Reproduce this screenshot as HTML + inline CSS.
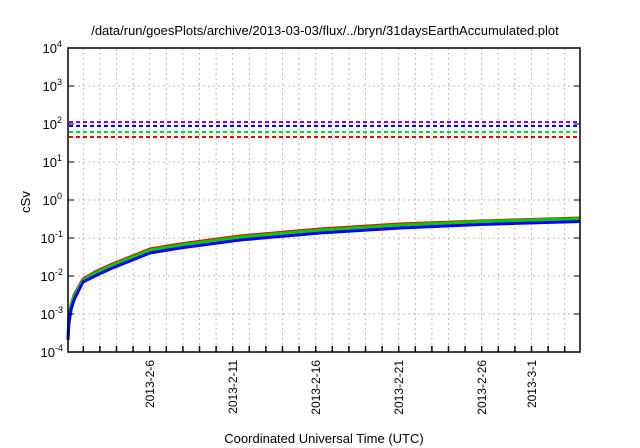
<!DOCTYPE html>
<html><head><style>body{margin:0;background:#fff}svg{display:block}text{font-family:"Liberation Sans",sans-serif;fill:#000}</style></head><body>
<svg width="640" height="448" viewBox="0 0 640 448">
<rect width="640" height="448" fill="#fff"/>
<g stroke="#bbb" stroke-width="1" stroke-dasharray="2,3">
<line x1="68" y1="86" x2="580" y2="86"/><line x1="68" y1="124" x2="580" y2="124"/><line x1="68" y1="162" x2="580" y2="162"/><line x1="68" y1="200" x2="580" y2="200"/><line x1="68" y1="238" x2="580" y2="238"/><line x1="68" y1="276" x2="580" y2="276"/><line x1="68" y1="314" x2="580" y2="314"/>
<line x1="83.3" y1="48" x2="83.3" y2="352"/><line x1="99.9" y1="48" x2="99.9" y2="352"/><line x1="116.5" y1="48" x2="116.5" y2="352"/><line x1="133.1" y1="48" x2="133.1" y2="352"/><line x1="149.7" y1="48" x2="149.7" y2="352"/><line x1="166.3" y1="48" x2="166.3" y2="352"/><line x1="182.9" y1="48" x2="182.9" y2="352"/><line x1="199.5" y1="48" x2="199.5" y2="352"/><line x1="216.1" y1="48" x2="216.1" y2="352"/><line x1="232.7" y1="48" x2="232.7" y2="352"/><line x1="249.3" y1="48" x2="249.3" y2="352"/><line x1="265.9" y1="48" x2="265.9" y2="352"/><line x1="282.5" y1="48" x2="282.5" y2="352"/><line x1="299.1" y1="48" x2="299.1" y2="352"/><line x1="315.7" y1="48" x2="315.7" y2="352"/><line x1="332.3" y1="48" x2="332.3" y2="352"/><line x1="348.9" y1="48" x2="348.9" y2="352"/><line x1="365.5" y1="48" x2="365.5" y2="352"/><line x1="382.1" y1="48" x2="382.1" y2="352"/><line x1="398.7" y1="48" x2="398.7" y2="352"/><line x1="415.3" y1="48" x2="415.3" y2="352"/><line x1="431.9" y1="48" x2="431.9" y2="352"/><line x1="448.5" y1="48" x2="448.5" y2="352"/><line x1="465.1" y1="48" x2="465.1" y2="352"/><line x1="481.7" y1="48" x2="481.7" y2="352"/><line x1="498.3" y1="48" x2="498.3" y2="352"/><line x1="514.9" y1="48" x2="514.9" y2="352"/><line x1="531.5" y1="48" x2="531.5" y2="352"/><line x1="548.1" y1="48" x2="548.1" y2="352"/><line x1="564.7" y1="48" x2="564.7" y2="352"/>
</g>
<g stroke-width="2" stroke-dasharray="4,3">
<line x1="69" y1="122" x2="579" y2="122" stroke="#9400d3"/>
<line x1="69" y1="126" x2="579" y2="126" stroke="#0000ff"/>
<line x1="69" y1="132" x2="579" y2="132" stroke="#00dd00"/>
<line x1="69" y1="137" x2="579" y2="137" stroke="#ee0000"/>
</g>
<g fill="none" stroke-width="3" stroke-linejoin="round">
<polyline stroke="#ee0000" points="68,335 69,318 71,305 74,295 78,288 83,279 95,272 110,265 130,257 150,249 180,244 240,236 320,229 400,224 480,221 580,218"/>
<polyline stroke="#00cc00" points="68,336 69,319 71,306 74,296 78,289 83,280 95,273 110,266 130,258 150,250 180,245 240,237 320,230 400,225 480,221.5 580,218.5"/>
<polyline stroke="#0000ff" points="68,340 69,323 71,310 74,300 78,292 83,282 95,276 110,269 130,261 150,253 180,248 240,240 320,233 400,228 480,224.5 580,221.5"/>
</g>
<g stroke="#000" stroke-width="1">
<g stroke-width="1.5">
<line x1="83.3" y1="352" x2="83.3" y2="346"/><line x1="99.9" y1="352" x2="99.9" y2="346"/><line x1="116.5" y1="352" x2="116.5" y2="346"/><line x1="133.1" y1="352" x2="133.1" y2="346"/><line x1="149.7" y1="352" x2="149.7" y2="346"/><line x1="166.3" y1="352" x2="166.3" y2="346"/><line x1="182.9" y1="352" x2="182.9" y2="346"/><line x1="199.5" y1="352" x2="199.5" y2="346"/><line x1="216.1" y1="352" x2="216.1" y2="346"/><line x1="232.7" y1="352" x2="232.7" y2="346"/><line x1="249.3" y1="352" x2="249.3" y2="346"/><line x1="265.9" y1="352" x2="265.9" y2="346"/><line x1="282.5" y1="352" x2="282.5" y2="346"/><line x1="299.1" y1="352" x2="299.1" y2="346"/><line x1="315.7" y1="352" x2="315.7" y2="346"/><line x1="332.3" y1="352" x2="332.3" y2="346"/><line x1="348.9" y1="352" x2="348.9" y2="346"/><line x1="365.5" y1="352" x2="365.5" y2="346"/><line x1="382.1" y1="352" x2="382.1" y2="346"/><line x1="398.7" y1="352" x2="398.7" y2="346"/><line x1="415.3" y1="352" x2="415.3" y2="346"/><line x1="431.9" y1="352" x2="431.9" y2="346"/><line x1="448.5" y1="352" x2="448.5" y2="346"/><line x1="465.1" y1="352" x2="465.1" y2="346"/><line x1="481.7" y1="352" x2="481.7" y2="346"/><line x1="498.3" y1="352" x2="498.3" y2="346"/><line x1="514.9" y1="352" x2="514.9" y2="346"/><line x1="531.5" y1="352" x2="531.5" y2="346"/><line x1="548.1" y1="352" x2="548.1" y2="346"/><line x1="564.7" y1="352" x2="564.7" y2="346"/>
</g>
<line x1="68" y1="86" x2="74" y2="86"/><line x1="68" y1="124" x2="74" y2="124"/><line x1="68" y1="162" x2="74" y2="162"/><line x1="68" y1="200" x2="74" y2="200"/><line x1="68" y1="238" x2="74" y2="238"/><line x1="68" y1="276" x2="74" y2="276"/><line x1="68" y1="314" x2="74" y2="314"/>
<line x1="580" y1="86" x2="574" y2="86"/><line x1="580" y1="124" x2="574" y2="124"/><line x1="580" y1="162" x2="574" y2="162"/><line x1="580" y1="200" x2="574" y2="200"/><line x1="580" y1="238" x2="574" y2="238"/><line x1="580" y1="276" x2="574" y2="276"/><line x1="580" y1="314" x2="574" y2="314"/>
</g>
<rect x="68" y="48" width="512" height="304" fill="none" stroke="#000" stroke-width="1.5"/>
<g font-size="13" text-anchor="end">
<text x="62" y="53">10<tspan font-size="9" dy="-6">4</tspan></text>
<text x="62" y="91">10<tspan font-size="9" dy="-6">3</tspan></text>
<text x="62" y="129">10<tspan font-size="9" dy="-6">2</tspan></text>
<text x="62" y="167">10<tspan font-size="9" dy="-6">1</tspan></text>
<text x="62" y="205">10<tspan font-size="9" dy="-6">0</tspan></text>
<text x="63" y="243">10<tspan font-size="9" dy="-6">-1</tspan></text>
<text x="63" y="281">10<tspan font-size="9" dy="-6">-2</tspan></text>
<text x="63" y="319">10<tspan font-size="9" dy="-6">-3</tspan></text>
<text x="63" y="357">10<tspan font-size="9" dy="-6">-4</tspan></text>
</g>
<g font-size="12" text-anchor="end">
<text transform="translate(154,360) rotate(-90)">2013-2-6</text>
<text transform="translate(237,360) rotate(-90)">2013-2-11</text>
<text transform="translate(320,360) rotate(-90)">2013-2-16</text>
<text transform="translate(403,360) rotate(-90)">2013-2-21</text>
<text transform="translate(486,360) rotate(-90)">2013-2-26</text>
<text transform="translate(536,360) rotate(-90)">2013-3-1</text>
</g>
<text x="325" y="35" font-size="13" text-anchor="middle">/data/run/goesPlots/archive/2013-03-03/flux/../bryn/31daysEarthAccumulated.plot</text>
<text transform="translate(30,202) rotate(-90)" font-size="13" text-anchor="middle">cSv</text>
<text x="324" y="443" font-size="13" text-anchor="middle">Coordinated Universal Time (UTC)</text>
</svg>
</body></html>
